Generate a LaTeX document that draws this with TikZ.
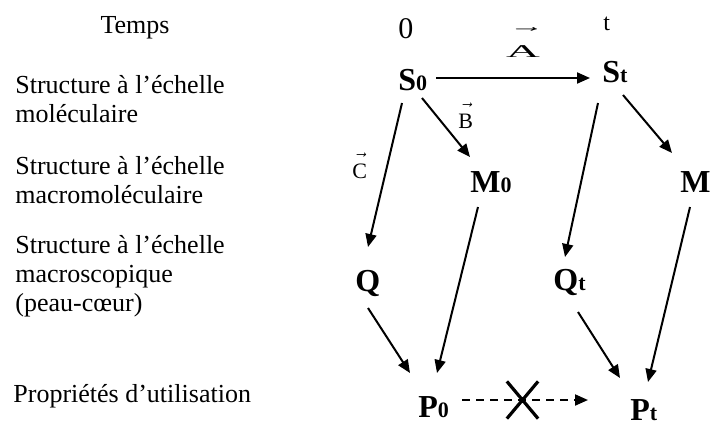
\documentclass[tikz,border=0pt]{standalone}
\usepackage{amsmath}
\usepackage{fontspec}
\setmainfont{Liberation Serif}
\usetikzlibrary{arrows.meta,shapes.misc}
\newcommand{\lowidx}[1]{{\fontsize{11}{12}\selectfont #1}}

\begin{document}
\begin{tikzpicture}[
    x=0.5pt, y=-0.5pt,
    level/.style={anchor=base west, inner sep=0pt, align=left, font=\fontsize{13}{14.5}\selectfont},
    state/.style={anchor=base west, inner sep=0pt, font=\fontsize{16}{18}\selectfont\bfseries},
    vlabel/.style={anchor=base west, inner sep=0pt, font=\fontsize{11}{12}\selectfont},
    arr/.style={-{Triangle[length=6.5pt, width=5.5pt]}, line width=1pt},
    dasharr/.style={arr, dash pattern=on 4pt off 3pt},
    xmark/.style={cross out, draw, solid, line width=1.6pt, minimum width=14pt, minimum height=17pt, inner sep=0pt}
]
    \useasboundingbox (0,0) rectangle (711,424);

    % Row labels (base = last line)
    \node (temps) [level, anchor=base] at (135,33) {Temps};
    \node (lmol) [level] at (15,122) {Structure à l’échelle\\moléculaire};
    \node (lmacro) [level] at (15,203) {Structure à l’échelle\\macromoléculaire};
    \node (lskin) [level] at (15,311) {Structure à l’échelle\\macroscopique\\(peau-cœur)};
    \node (luse) [level] at (13,402) {Propriétés d’utilisation};

    % Time marks
    \node (tzero) [anchor=base west, inner sep=0pt, font=\fontsize{15}{16}\selectfont] at (398,38) {0};
    \node (tend) [anchor=base west, inner sep=0pt, font=\fontsize{12}{13}\selectfont] at (603,30) {t};

    % Nodes
    \node (s0) [state] at (398,90) {S\lowidx{0}};
    \node (st) [state] at (602,82) {S\lowidx{t}};
    \node (m0) [state] at (470,192) {M\lowidx{0}};
    \node (mt) [state] at (680,192) {M};
    \node (q0) [state] at (355,291) {Q};
    \node (qt) [state] at (553,290) {Q\lowidx{t}};
    \node (p0) [state] at (418,417) {P\lowidx{0}};
    \node (pt) [state] at (630,420) {P\lowidx{t}};

    % Vector labels
    \node (veca) [anchor=base, inner sep=0pt, font=\fontsize{9}{10}\selectfont] at (523,57) {\scalebox{2.6}[1]{$\vec{\text{A}\rule{0pt}{12pt}}$}};
    \node (vecb) [vlabel] at (458,128) {$\vec{\text{B}\rule{0pt}{9.5pt}}$};
    \node (vecc) [vlabel] at (352,178) {$\vec{\text{C}\rule{0pt}{9.5pt}}$};

    % Connectors
    \draw [arr] ([shift={(38,-12)}]s0.base west) -- ([shift={(-12,-4)}]st.base west);
    \draw [arr] ([shift={(4,13)}]s0.base west) -- ([shift={(13,-44)}]q0.base west);
    \draw [arr] ([shift={(24,8)}]s0.base west) -- ([shift={(0,-35)}]m0.base west);
    \draw [arr] ([shift={(-4,21)}]st.base west) -- ([shift={(12,-33)}]qt.base west);
    \draw [arr] ([shift={(21,13)}]st.base west) -- ([shift={(-8,-39)}]mt.base west);
    \draw [arr] ([shift={(8,15)}]m0.base west) -- ([shift={(19,-44)}]p0.base west);
    \draw [arr] ([shift={(10,15)}]mt.base west) -- ([shift={(18,-38)}]pt.base west);
    \draw [arr] ([shift={(13,17)}]q0.base west) -- ([shift={(-8,-44)}]p0.base west);
    \draw [arr] ([shift={(25,22)}]qt.base west) -- ([shift={(-10,-42)}]pt.base west);
    \draw [dasharr] ([shift={(44,-17)}]p0.base west) -- node [xmark, pos=0.48] {} ([shift={(-42,-20)}]pt.base west);
\end{tikzpicture}
\end{document}
